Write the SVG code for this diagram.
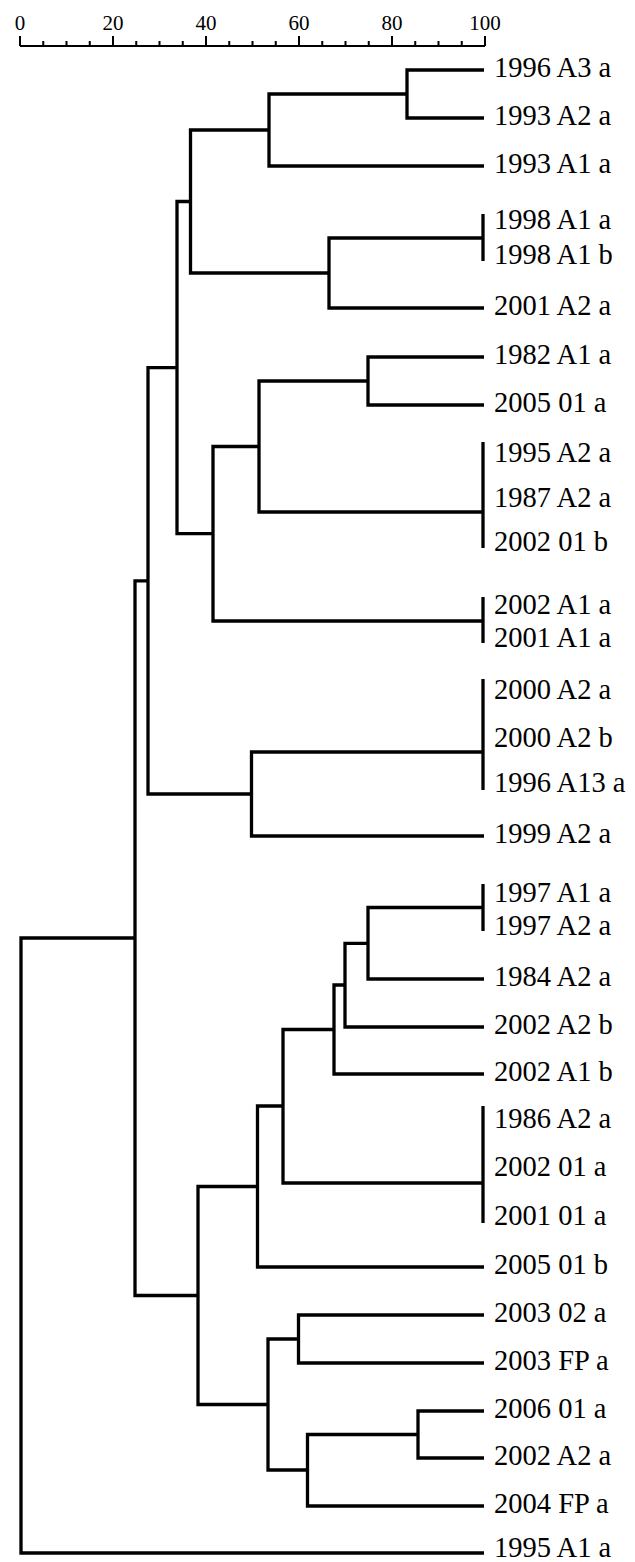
<svg xmlns="http://www.w3.org/2000/svg" width="635" height="1562" viewBox="0 0 635 1562">
<style>
.lbl{font-family:"Liberation Serif","Times New Roman",serif;font-size:28.5px;fill:#000}
.ax{font-family:"Liberation Serif","Times New Roman",serif;font-size:21px;fill:#000;text-anchor:middle}
.br{fill:none;stroke:#000;stroke-width:3.3;stroke-linejoin:miter}
.tk{fill:none;stroke:#000;stroke-width:2}
</style>
<rect width="635" height="1562" fill="#fff"/>
<g id="axis">
<path class="tk" d="M20,46 H485 M20,36 V46 M43.25,41 V46 M66.5,41 V46 M89.75,41 V46 M113,36 V46 M136.25,41 V46 M159.5,41 V46 M182.75,41 V46 M206,36 V46 M229.25,41 V46 M252.5,41 V46 M275.75,41 V46 M299,36 V46 M322.25,41 V46 M345.5,41 V46 M368.75,41 V46 M392,36 V46 M415.25,41 V46 M438.5,41 V46 M461.75,41 V46 M485,36 V46"/>
<text class="ax" x="20" y="30">0</text>
<text class="ax" x="113" y="30">20</text>
<text class="ax" x="206" y="30">40</text>
<text class="ax" x="299" y="30">60</text>
<text class="ax" x="392" y="30">80</text>
<text class="ax" x="485" y="30">100</text>
</g>
<g id="connectors" class="br">
<path d="M484,70 H407 V118 H484"/>
<path d="M407,94 H269 V166 H484"/>
<path d="M483,238 H329 V308 H484"/>
<path d="M269,130 H190.5 V273 H329"/>
<path d="M484,357 H368 V405 H484"/>
<path d="M368,381 H259 V512 H483"/>
<path d="M259,446.5 H213 V621 H483"/>
<path d="M190.5,201.5 H177 V533.7 H213"/>
<path d="M483,752 H251.5 V836 H484"/>
<path d="M177,367.6 H148 V794 H251.5"/>
<path d="M483,907.5 H368 V979 H484"/>
<path d="M368,943.3 H345 V1027 H484"/>
<path d="M345,985 H334 V1074 H484"/>
<path d="M334,1029.5 H283 V1183 H483"/>
<path d="M283,1106 H257.5 V1267 H484"/>
<path d="M484,1315 H298.5 V1363 H484"/>
<path d="M484,1411 H418 V1458 H484"/>
<path d="M418,1434.5 H307.5 V1506 H484"/>
<path d="M298.5,1339 H268 V1470 H307.5"/>
<path d="M257.5,1186.5 H198 V1404.5 H268"/>
<path d="M148,580.8 H135 V1295.5 H198"/>
<path d="M135,938 H21 V1553 H484"/>
<path d="M483,214 V261"/>
<path d="M483,442 V548"/>
<path d="M483,597 V643"/>
<path d="M483,679 V790"/>
<path d="M483,884 V931"/>
<path d="M483,1106 V1223"/>
</g>
<g id="leaf-1996-A3-a"><text class="lbl" x="494" y="77">1996 A3 a</text></g>
<g id="leaf-1993-A2-a"><text class="lbl" x="494" y="125">1993 A2 a</text></g>
<g id="leaf-1993-A1-a"><text class="lbl" x="494" y="173">1993 A1 a</text></g>
<g id="leaf-1998-A1-a"><text class="lbl" x="494" y="229">1998 A1 a</text></g>
<g id="leaf-1998-A1-b"><text class="lbl" x="494" y="264">1998 A1 b</text></g>
<g id="leaf-2001-A2-a"><text class="lbl" x="494" y="315">2001 A2 a</text></g>
<g id="leaf-1982-A1-a"><text class="lbl" x="494" y="364">1982 A1 a</text></g>
<g id="leaf-2005-01-a"><text class="lbl" x="494" y="412">2005 01 a</text></g>
<g id="leaf-1995-A2-a"><text class="lbl" x="494" y="462">1995 A2 a</text></g>
<g id="leaf-1987-A2-a"><text class="lbl" x="494" y="507">1987 A2 a</text></g>
<g id="leaf-2002-01-b"><text class="lbl" x="494" y="551">2002 01 b</text></g>
<g id="leaf-2002-A1-a"><text class="lbl" x="494" y="614">2002 A1 a</text></g>
<g id="leaf-2001-A1-a"><text class="lbl" x="494" y="647">2001 A1 a</text></g>
<g id="leaf-2000-A2-a"><text class="lbl" x="494" y="699">2000 A2 a</text></g>
<g id="leaf-2000-A2-b"><text class="lbl" x="494" y="747">2000 A2 b</text></g>
<g id="leaf-1996-A13-a"><text class="lbl" x="494" y="792">1996 A13 a</text></g>
<g id="leaf-1999-A2-a"><text class="lbl" x="494" y="843">1999 A2 a</text></g>
<g id="leaf-1997-A1-a"><text class="lbl" x="494" y="902">1997 A1 a</text></g>
<g id="leaf-1997-A2-a"><text class="lbl" x="494" y="935">1997 A2 a</text></g>
<g id="leaf-1984-A2-a"><text class="lbl" x="494" y="986">1984 A2 a</text></g>
<g id="leaf-2002-A2-b"><text class="lbl" x="494" y="1034">2002 A2 b</text></g>
<g id="leaf-2002-A1-b"><text class="lbl" x="494" y="1081">2002 A1 b</text></g>
<g id="leaf-1986-A2-a"><text class="lbl" x="494" y="1128">1986 A2 a</text></g>
<g id="leaf-2002-01-a"><text class="lbl" x="494" y="1176">2002 01 a</text></g>
<g id="leaf-2001-01-a"><text class="lbl" x="494" y="1225">2001 01 a</text></g>
<g id="leaf-2005-01-b"><text class="lbl" x="494" y="1274">2005 01 b</text></g>
<g id="leaf-2003-02-a"><text class="lbl" x="494" y="1322">2003 02 a</text></g>
<g id="leaf-2003-FP-a"><text class="lbl" x="494" y="1370">2003 FP a</text></g>
<g id="leaf-2006-01-a"><text class="lbl" x="494" y="1418">2006 01 a</text></g>
<g id="leaf-2002-A2-a"><text class="lbl" x="494" y="1465">2002 A2 a</text></g>
<g id="leaf-2004-FP-a"><text class="lbl" x="494" y="1513">2004 FP a</text></g>
<g id="leaf-1995-A1-a"><text class="lbl" x="494" y="1557">1995 A1 a</text></g>
</svg>
